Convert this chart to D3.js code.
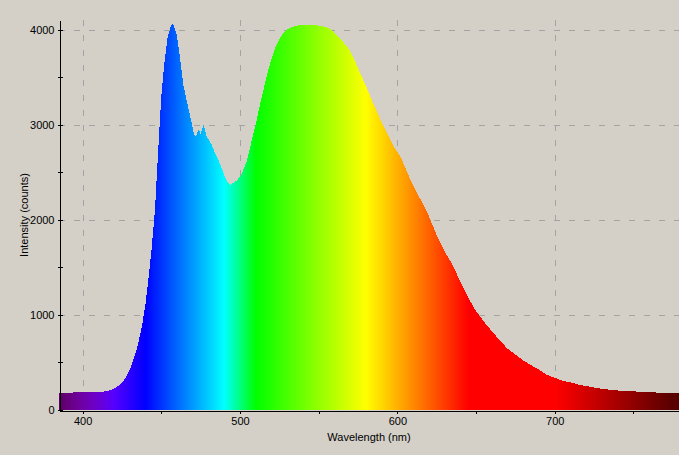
<!DOCTYPE html>
<html>
<head>
<meta charset="utf-8">
<script src="https://cdn.jsdelivr.net/npm/d3@7"></script>
<style>
  body { margin: 0; background: #d4d0c8; }
  text { font-family: "Liberation Sans", Arial, sans-serif; }
</style>
</head>
<body>
<script>
// spectrum
var wavelengths = [385, 390, 395, 400, 405, 410, 415, 418, 421, 424, 427, 430, 432, 434, 436, 438, 440, 442, 444, 446,
  448, 450, 452, 454, 456, 457, 458, 460, 462, 464, 466, 468, 470, 471, 472, 473, 474, 475, 476, 477,
  478, 479, 480, 482, 484, 486, 488, 490, 492, 494, 496, 498, 500, 502, 504, 506, 508, 510, 512, 514,
  516, 518, 520, 522, 524, 526, 528, 530, 533, 537, 541, 545, 549, 552, 555, 558, 561, 564, 567, 570,
  573, 576, 580, 583, 586, 589, 592, 595, 598, 602, 605, 608, 611, 615, 620, 625, 630, 635, 640, 645,
  650, 655, 660, 665, 670, 675, 680, 685, 690, 695, 700, 705, 710, 715, 720, 730, 740, 750, 760, 770, 779];
var counts = [183, 183, 184, 185, 187, 190, 196, 210, 232, 270, 330, 422, 524, 618, 750, 910, 1120, 1400, 1720, 2110,
  2720, 3300, 3650, 3920, 4030, 4063, 4040, 3930, 3690, 3420, 3260, 3120, 2960, 2890, 2880, 2920, 2950, 2900, 2960, 3000,
  2930, 2870, 2850, 2790, 2710, 2640, 2560, 2470, 2400, 2370, 2390, 2415, 2450, 2520, 2600, 2730, 2870, 3000, 3160, 3300,
  3440, 3575, 3690, 3790, 3865, 3925, 3970, 4000, 4025, 4042, 4046, 4050, 4045, 4035, 4024, 4000, 3950, 3900, 3840, 3775,
  3670, 3555, 3410, 3290, 3176, 3060, 2960, 2860, 2760, 2665, 2550, 2430, 2330, 2205, 2040, 1840, 1670, 1530, 1350, 1180,
  1040, 930, 830, 735, 645, 583, 522, 472, 423, 370, 340, 308, 290, 268, 252, 222, 205, 196, 187, 180, 175];
var xTicks = [400, 450, 500, 550, 600, 650, 700, 750];
var yTicks = [0, 500, 1000, 1500, 2000, 2500, 3000, 3500, 4000];

var width = 679, height = 455;
var plot = {x0: 59, x1: 679, y0: 20, y1: 410};

var data = wavelengths.map((w, i) => ({w: w, c: counts[i]}));

var svg = d3.select("body").append("svg")
  .attr("width", width)
  .attr("height", height);

var x = d3.scaleLinear().domain([385, 779]).range([plot.x0, plot.x1]);
var y = d3.scaleLinear().domain([0, 4100]).range([plot.y1, plot.y0]);

// wavelength -> colour, no gamma (ends go dark)
function spectrumColor(w) {
  var r = 0, g = 0, b = 0;
  if (w < 440) { r = (440 - w) / 60; b = 1; }
  else if (w < 490) { g = (w - 440) / 50; b = 1; }
  else if (w < 510) { g = 1; b = (510 - w) / 20; }
  else if (w < 580) { r = (w - 510) / 70; g = 1; }
  else if (w < 645) { r = 1; g = (645 - w) / 65; }
  else { r = 1; }
  var f = 1;
  if (w < 420) f = 0.3 + 0.7 * (w - 380) / 40;
  else if (w > 700) f = 0.3 + 0.7 * (780 - w) / 80;
  return d3.rgb(r * f * 255, g * f * 255, b * f * 255);
}

var grad = svg.append("defs").append("linearGradient")
  .attr("id", "spec")
  .attr("gradientUnits", "userSpaceOnUse")
  .attr("x1", x(385)).attr("x2", x(779))
  .attr("y1", 0).attr("y2", 0);

d3.range(385, 780, 5).forEach((w) => {
  grad.append("stop")
    .attr("offset", (w - 385) / (779 - 385))
    .attr("stop-color", spectrumColor(w));
});

// grid
svg.append("g").selectAll("line").data([1000, 2000, 3000, 4000]).enter()
  .append("line")
  .attr("x1", plot.x0).attr("x2", plot.x1)
  .attr("y1", (d) => Math.round(y(d)) + 0.5).attr("y2", (d) => Math.round(y(d)) + 0.5)
  .attr("stroke", "#a4a4a4")
  .attr("stroke-dasharray", "6,9");

svg.append("g").selectAll("line").data([400, 500, 600, 700]).enter()
  .append("line")
  .attr("x1", (d) => Math.round(x(d)) + 0.5).attr("x2", (d) => Math.round(x(d)) + 0.5)
  .attr("y1", plot.y0).attr("y2", plot.y1)
  .attr("stroke", "#a4a4a4")
  .attr("stroke-dasharray", "6,9");

var area = d3.area()
  .x((d) => x(d.w))
  .y0(y(0))
  .y1((d) => y(d.c));

svg.append("path")
  .datum(data)
  .attr("d", area)
  .attr("fill", "url(#spec)")
  .attr("shape-rendering", "crispEdges");

// axes
var xAxis = d3.axisBottom(x)
  .tickValues(xTicks)
  .tickSize(3)
  .tickSizeOuter(0)
  .tickPadding(4)
  .tickFormat((d) => d % 100 === 0 ? d : "");

svg.append("g")
  .attr("transform", "translate(0," + (plot.y1 + 0.5) + ")")
  .call(xAxis);

var yAxis = d3.axisLeft(y)
  .tickValues(yTicks)
  .tickSize(2)
  .tickSizeOuter(0)
  .tickPadding(3)
  .tickFormat((d) => d % 1000 === 0 ? d : "");

var gy = svg.append("g")
  .attr("transform", "translate(" + (plot.x0 + 0.5) + ",0)")
  .call(yAxis);
gy.selectAll(".tick").append("line")
  .attr("x2", 3)
  .attr("stroke", "#000");

svg.selectAll(".tick line, .domain").attr("shape-rendering", "crispEdges");

svg.selectAll(".tick text")
  .attr("font-size", "11px")
  .attr("fill", "#000")
  .style("font-family", "'Liberation Sans', Arial, sans-serif");

svg.append("text")
  .attr("x", -(plot.y0 + plot.y1) / 2)
  .attr("y", 28)
  .attr("transform", "rotate(-90)")
  .attr("text-anchor", "middle")
  .attr("font-size", "11px")
  .text("Intensity (counts)");

svg.append("text")
  .attr("x", (plot.x0 + plot.x1) / 2)
  .attr("y", 441)
  .attr("text-anchor", "middle")
  .attr("font-size", "11px")
  .text("Wavelength (nm)");
</script>
</body>
</html>
